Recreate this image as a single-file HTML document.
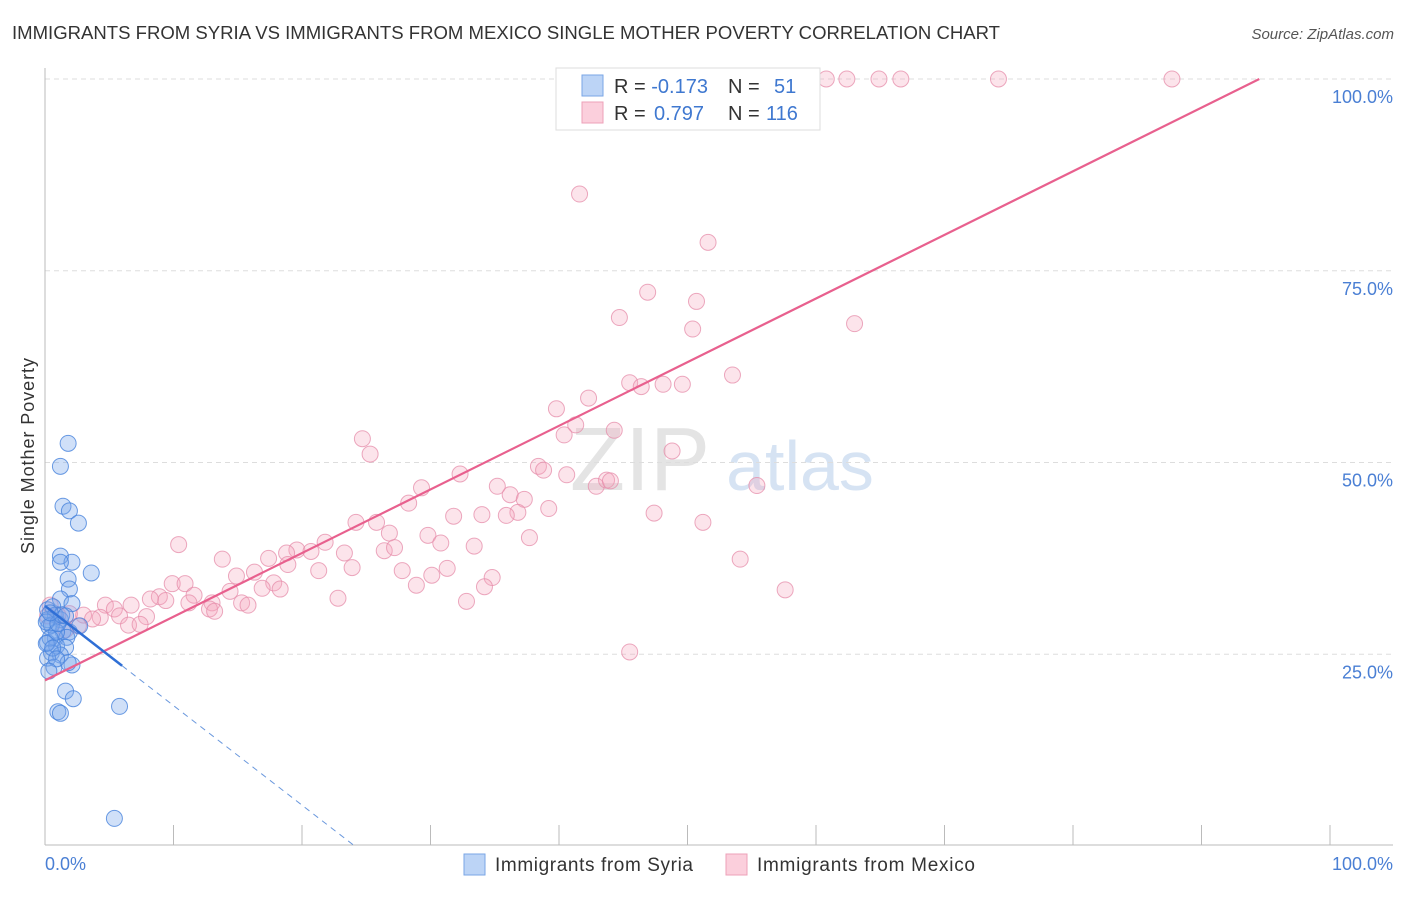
<!DOCTYPE html>
<html><head><meta charset="utf-8"><style>
body{margin:0;background:#fff;font-family:"Liberation Sans",sans-serif}
svg text{font-family:"Liberation Sans",sans-serif}
</style></head><body>
<svg id="c" width="1406" height="892">
<text x="12" y="39" font-size="18" fill="#333" textLength="988" lengthAdjust="spacingAndGlyphs">IMMIGRANTS FROM SYRIA VS IMMIGRANTS FROM MEXICO SINGLE MOTHER POVERTY CORRELATION CHART</text>
<text x="1394" y="39" font-size="15" fill="#555" text-anchor="end" font-style="italic">Source: ZipAtlas.com</text>
<text x="34" y="456" font-size="18" fill="#333" text-anchor="middle" textLength="196" transform="rotate(-90 34 456)">Single Mother Poverty</text>
<text x="640" y="490" font-size="90" fill="#e4e4e4" font-family="Liberation Serif" text-anchor="middle">ZIP</text>
<text x="800" y="490" font-size="70" fill="#d6e3f3" text-anchor="middle">atlas</text>
<g id="grid"></g><g id="marks"></g>
<text x="45" y="870" font-size="18" fill="#4a7fd4">0.0%</text>
<text x="1393" y="870" font-size="18" fill="#4a7fd4" text-anchor="end">100.0%</text>
<g>
<rect x="464" y="854" width="21" height="21" fill="#bcd4f6" stroke="#7aa6e6"/>
<text x="495" y="871" font-size="19" fill="#333" textLength="198">Immigrants from Syria</text>
<rect x="726" y="854" width="21" height="21" fill="#fbcfdc" stroke="#eea0b8"/>
<text x="757" y="871" font-size="19" fill="#333" textLength="218">Immigrants from Mexico</text>
</g>
<g>
<rect x="556" y="68" width="264" height="62" fill="#fff" stroke="#ddd"/>
<rect x="582" y="75" width="21" height="21" fill="#bcd4f6" stroke="#7aa6e6"/>
<rect x="582" y="102" width="21" height="21" fill="#fbcfdc" stroke="#eea0b8"/>
<text x="614" y="93" font-size="20" fill="#333">R = <tspan fill="#3f78d0">-0.173</tspan><tspan x="728">N = </tspan><tspan x="774" fill="#3f78d0">51</tspan></text>
<text x="614" y="120" font-size="20" fill="#333">R = <tspan x="654" fill="#3f78d0">0.797</tspan><tspan x="728">N = </tspan><tspan x="766" fill="#3f78d0">116</tspan></text>
</g>
</svg>
<script>
const yTicks=[25,50,75,100];
const yTickLabels=["25.0%","50.0%","75.0%","100.0%"];
const xTicks=[0,10,20,30,40,50,60,70,80,90,100];
const mexicoX=[54.3,56.3,60.8,62.4,64.9,66.6,74.2,87.7,54.0,41.6,51.6,46.9,50.7,44.7,50.4,63.0,45.5,46.4,48.1,49.6,53.5,42.3,39.8,41.3,44.3,40.4,24.7,25.3,48.8,38.4,38.8,40.6,32.3,42.9,43.7,44.0,29.3,35.2,36.2,37.3,55.4,28.3,36.8,35.9,39.2,47.4,51.2,24.2,25.8,31.8,34.0,29.8,26.8,37.7,10.4,30.8,33.4,21.8,54.1,13.8,26.4,27.2,19.6,17.4,18.8,20.7,23.3,16.3,18.9,21.3,23.9,27.8,31.3,9.9,10.9,8.9,14.9,17.8,14.4,16.9,18.3,34.8,30.1,34.2,28.9,57.6,9.4,11.6,13.0,12.8,11.2,15.3,8.2,15.8,13.2,22.8,32.8,6.7,4.7,5.4,5.8,7.9,6.5,7.4,4.3,3.0,1.9,3.7,2.6,1.0,1.6,0.4,45.5,0.2];
const mexicoY=[100,100,100,100,100,100,100,100,100,85.0,78.7,72.2,71.0,68.9,67.4,68.1,60.4,59.9,60.2,60.2,61.4,58.4,57.0,54.9,54.2,53.6,53.1,51.1,51.5,49.5,49.0,48.4,48.5,46.9,47.7,47.6,46.7,46.9,45.8,45.2,47.0,44.7,43.5,43.1,44.0,43.4,42.2,42.2,42.2,43.0,43.2,40.5,40.8,40.2,39.3,39.5,39.1,39.6,37.4,37.4,38.5,38.9,38.6,37.5,38.2,38.4,38.2,35.7,36.7,35.9,36.3,35.9,36.2,34.2,34.2,32.5,35.2,34.3,33.2,33.6,33.5,35.0,35.3,33.8,34.0,33.4,32.0,32.7,31.7,30.9,31.7,31.7,32.2,31.4,30.6,32.3,31.9,31.4,31.4,30.9,30.0,29.9,28.8,28.9,29.8,30.1,30.3,29.6,28.7,30.1,28.2,31.4,25.3,30.0];
const syriaX=[1.8,1.2,1.4,1.9,2.6,1.2,2.1,1.2,3.6,1.8,1.9,1.2,2.1,0.2,0.6,0.8,0.2,1.2,0.3,1.4,1.9,2.7,0.8,1.7,0.2,0.9,1.6,0.5,1.2,0.2,2.1,1.8,0.7,1.6,2.2,1.0,1.2,5.8,5.4,0.5,0.9,0.4,0.1,0.1,0.6,1.0,1.3,1.6,0.4,0.9,0.3];
const syriaY=[52.5,49.5,44.3,43.7,42.1,37.8,37.0,37.0,35.6,34.8,33.5,32.2,31.6,30.8,31.2,30.1,29.5,29.5,28.6,28.0,27.9,28.7,27.1,27.2,26.5,26.1,25.9,25.2,24.9,24.5,23.6,23.9,23.3,20.2,19.2,17.5,17.3,18.2,3.6,28.8,27.9,27.1,29.2,26.4,25.8,29.0,30.1,30.0,30.4,24.4,22.8];
const L=45,R=1330,T=79,B=846;
const sx=v=>L+v/100*(R-L), sy=v=>B-v/100*(B-T);
const NS="http://www.w3.org/2000/svg";
const g=document.getElementById('grid'), m=document.getElementById('marks');
function mk(t,a,p){const e=document.createElementNS(NS,t);for(const k in a)e.setAttribute(k,a[k]);p.appendChild(e);return e;}
yTicks.forEach((v,i)=>{
 const ln=mk('line',{x1:L,x2:1393,y1:sy(v),y2:sy(v),stroke:'#ddd','stroke-dasharray':'5,4'},g);
 
 
 const t=mk('text',{x:1393,y:sy(v)+24,'font-size':18,fill:'#4a7fd4','text-anchor':'end'},g);
 t.textContent=yTickLabels[i];
 
 
});
const ya=mk('line',{x1:L,x2:L,y1:68,y2:845,stroke:'#bbb'},g);


const xa=mk('line',{x1:L,x2:1393,y1:845,y2:845,stroke:'#bbb'},g);


xTicks.forEach(v=>{
 const tk=mk('line',{x1:sx(v),x2:sx(v),y1:825,y2:845,stroke:'#bbb'},g);
 
 
});
mexicoX.forEach((x,i)=>{
 const c=mk('circle',{cx:sx(x),cy:sy(mexicoY[i]),r:8,fill:'rgba(245,165,190,0.3)',stroke:'rgba(230,140,170,0.75)','stroke-width':1},m);
 
 
});
syriaX.forEach((x,i)=>{
 const c=mk('circle',{cx:sx(x),cy:sy(syriaY[i]),r:8,fill:'rgba(120,165,235,0.35)',stroke:'rgba(70,130,220,0.8)','stroke-width':1},m);
 
 
});
const pl=mk('line',{x1:sx(0),y1:sy(21.6),x2:sx(94.5),y2:sy(100),stroke:'#e8608e','stroke-width':2.2},m);


const bd=mk('line',{x1:sx(6),y1:sy(23.5),x2:sx(24.1),y2:sy(0),stroke:'#6a98dd','stroke-width':1,'stroke-dasharray':'6,5'},m);


const bl=mk('line',{x1:sx(0),y1:sy(31.3),x2:sx(6),y2:sy(23.5),stroke:'#2f6fd6','stroke-width':2.5},m);


</script>
</body></html>
